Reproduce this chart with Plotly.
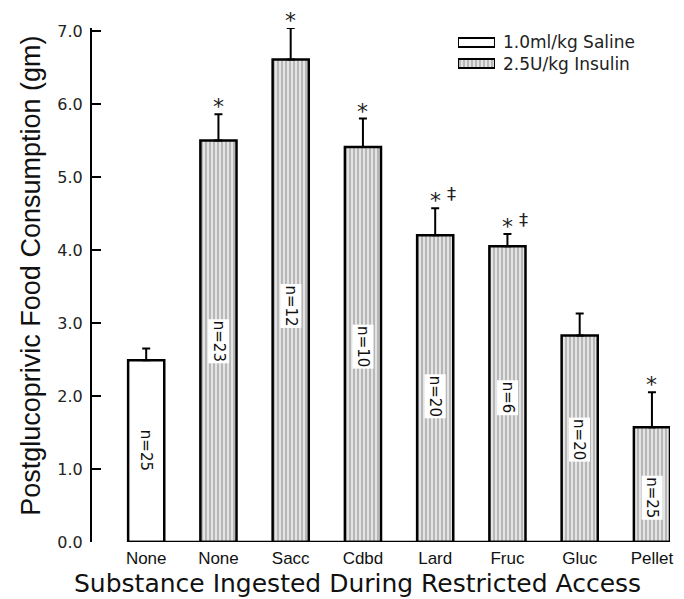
import plotly.graph_objects as go

# ---------------- data ----------------
categories = ["None", "None", "Sacc", "Cdbd", "Lard", "Fruc", "Gluc", "Pellet"]
groups = ["Saline", "Insulin", "Insulin", "Insulin", "Insulin", "Insulin", "Insulin", "Insulin"]
means = [2.49, 5.50, 6.61, 5.41, 4.20, 4.05, 2.83, 1.57]
sems = [0.16, 0.36, 0.43, 0.39, 0.37, 0.17, 0.30, 0.48]
n_labels = ["n=25", "n=23", "n=12", "n=10", "n=20", "n=6", "n=20", "n=25"]
n_label_pos = [1.26, 2.75, 3.23, 2.67, 2.00, 1.97, 1.40, 0.60]
stars = ["", "*", "*", "*", "*", "*", "", "*"]
daggers = ["", "", "", "", "‡", "‡", "", ""]
legend_groups = ["Saline", "Insulin"]
legend_labels = ["1.0ml/kg Saline", "2.5U/kg Insulin"]
y_ticks = [0, 1, 2, 3, 4, 5, 6, 7]
x_title = "Substance Ingested During Restricted Access"
y_title = "Postglucoprivic Food Consumption (gm)"

# ---------------- styles ----------------
BAR_W = 0.5
FONT = "DejaVu Sans"
TITLE_FONT = "Liberation Sans"
styles = {
    "Saline": dict(color="white", pattern=dict(shape="")),
    "Insulin": dict(color="#e4e4e4",
                    pattern=dict(shape="|", size=4, solidity=0.3,
                                 fgcolor="#999999", bgcolor="#e4e4e4",
                                 fillmode="replace")),
}

xs = list(range(len(categories)))
fig = go.Figure()

for g in legend_groups:
    idx = [i for i, gg in enumerate(groups) if gg == g]
    fig.add_trace(go.Bar(
        x=[xs[i] for i in idx],
        y=[means[i] for i in idx],
        width=BAR_W,
        marker=dict(color=styles[g]["color"], pattern=styles[g]["pattern"],
                    line=dict(color="black", width=2.5)),
        error_y=dict(type="data", array=[sems[i] for i in idx],
                     arrayminus=[0] * len(idx), symmetric=False,
                     color="black", thickness=2, width=4),
        showlegend=False, hoverinfo="skip",
    ))

# legend swatches in a small inset axis
for k, g in enumerate(legend_groups):
    fig.add_trace(go.Bar(
        x=[1], y=[len(legend_groups) - 1 - k], orientation="h", width=0.43,
        marker=dict(color=styles[g]["color"], pattern=styles[g]["pattern"],
                    line=dict(color="black", width=2)),
        xaxis="x2", yaxis="y2", showlegend=False, hoverinfo="skip",
    ))

annotations = []
for i, x in enumerate(xs):
    top = means[i] + sems[i]
    if stars[i]:
        annotations.append(dict(x=x, y=top, xref="x", yref="y", text=stars[i],
                                showarrow=False, yanchor="bottom", yshift=-7,
                                font=dict(family=FONT, size=22, color="#222")))
    if daggers[i]:
        annotations.append(dict(x=x, y=top, xref="x", yref="y", text=daggers[i],
                                showarrow=False, yanchor="bottom", yshift=2, xshift=16,
                                font=dict(family=FONT, size=18, color="#222")))
    annotations.append(dict(x=x, y=n_label_pos[i], xref="x", yref="y", text=n_labels[i],
                            showarrow=False, textangle=90, bgcolor="white", borderpad=1,
                            font=dict(family=FONT, size=15, color="#111")))

for k, lab in enumerate(legend_labels):
    annotations.append(dict(x=0.7076, y=[0.9718, 0.9309][k], xref="paper", yref="paper",
                            text=lab, showarrow=False, xanchor="left", yanchor="middle",
                            font=dict(family=FONT, size=17, color="#222")))

annotations.append(dict(x=0.46, y=-0.0798, xref="paper", yref="paper", text=x_title,
                        showarrow=False, xanchor="center", yanchor="middle",
                        font=dict(family=FONT, size=25, color="#111")))
annotations.append(dict(x=-0.106, y=0.5175, xref="paper", yref="paper", text=y_title,
                        showarrow=False, textangle=-90, xanchor="center", yanchor="middle",
                        font=dict(family=TITLE_FONT, size=27, color="#111")))

fig.update_layout(
    width=684, height=599,
    margin=dict(l=92, r=14, t=28, b=57),
    paper_bgcolor="white", plot_bgcolor="white",
    barmode="overlay",
    annotations=annotations,
    shapes=[dict(type="line", xref="x", yref="y",
                 x0=xs[0] - BAR_W / 2, x1=xs[-1] + BAR_W / 2, y0=0, y1=0,
                 line=dict(color="black", width=2.5))],
    xaxis=dict(range=[-0.75, len(xs) - 1 + 0.25], tickvals=xs, ticktext=categories,
               showline=False, showgrid=False, zeroline=False, ticks="",
               ticklabelstandoff=4,
               tickfont=dict(family="Liberation Sans", size=17, color="#111")),
    yaxis=dict(range=[0, 7.04], tickvals=y_ticks,
               ticktext=[f"{v:.1f}" for v in y_ticks],
               showline=True, linecolor="black", linewidth=2,
               ticks="inside", ticklen=9, tickwidth=2, tickcolor="black",
               showgrid=False, zeroline=False, ticklabelstandoff=4,
               tickfont=dict(family=FONT, size=16, color="#222")),
    xaxis2=dict(domain=[0.6332, 0.6972], range=[0, 1], visible=False, anchor="y2"),
    yaxis2=dict(domain=[0.9105, 0.9923], range=[-0.5, 1.5], visible=False, anchor="x2"),
)

fig.write_html("out.html")
